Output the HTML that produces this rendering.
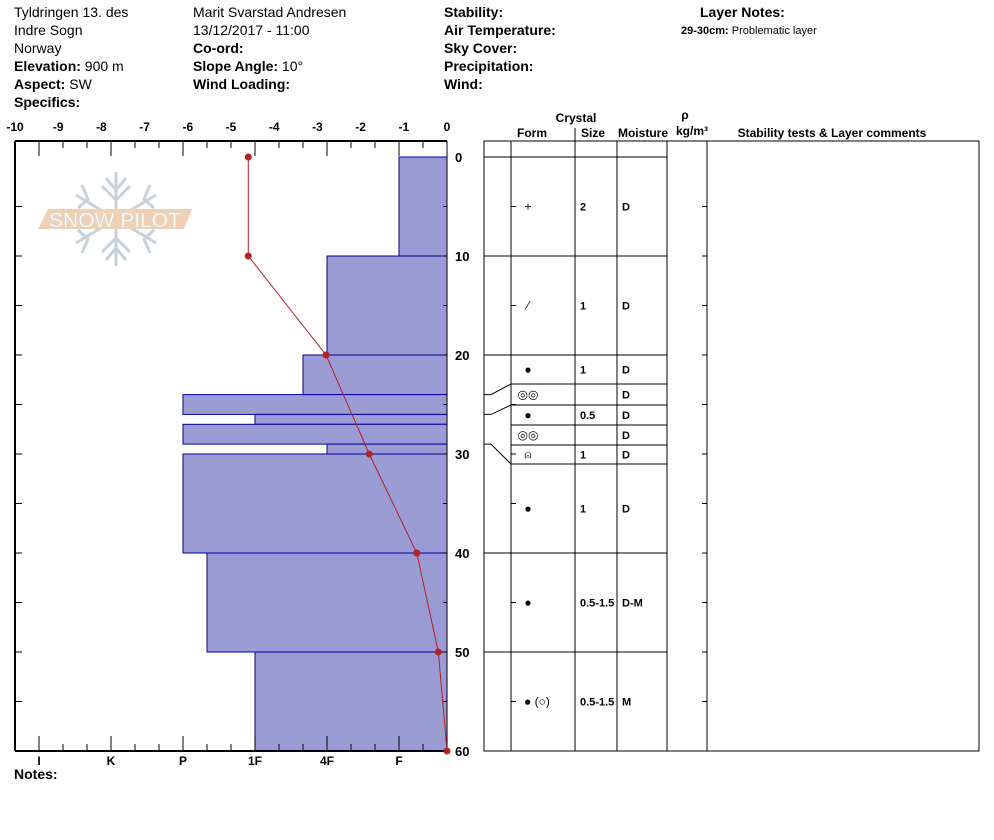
<!DOCTYPE html>
<html><head><meta charset="utf-8"><style>
body{margin:0;background:#fff;width:994px;height:840px;overflow:hidden;font-family:"Liberation Sans",sans-serif}
svg{position:absolute;left:0;top:0}
</style></head><body>
<svg id="s" width="994" height="840" xmlns="http://www.w3.org/2000/svg" font-family="Liberation Sans, sans-serif">
<g font-size="14" fill="#000">
<text x="14" y="17">Tyldringen 13. des</text>
<text x="14" y="35">Indre Sogn</text>
<text x="14" y="53">Norway</text>
<text x="14" y="71"><tspan font-weight="bold">Elevation:</tspan> 900 m</text>
<text x="14" y="89"><tspan font-weight="bold">Aspect:</tspan> SW</text>
<text x="14" y="107" font-weight="bold">Specifics:</text>
<text x="193" y="17">Marit Svarstad Andresen</text>
<text x="193" y="35">13/12/2017 - 11:00</text>
<text x="193" y="53" font-weight="bold">Co-ord:</text>
<text x="193" y="71"><tspan font-weight="bold">Slope Angle:</tspan> 10°</text>
<text x="193" y="89" font-weight="bold">Wind Loading:</text>
<text x="444" y="17" font-weight="bold">Stability:</text>
<text x="444" y="35" font-weight="bold">Air Temperature:</text>
<text x="444" y="53" font-weight="bold">Sky Cover:</text>
<text x="444" y="71" font-weight="bold">Precipitation:</text>
<text x="444" y="89" font-weight="bold">Wind:</text>
<text x="700" y="17" font-weight="bold">Layer Notes:</text>
<text x="681" y="34" font-size="11"><tspan font-weight="bold">29-30cm:</tspan> Problematic layer</text>
</g>
<g opacity="0.85">
<g stroke="#c0cad2" stroke-width="3" fill="none">
<line x1="116" y1="172" x2="116" y2="266"/><line x1="76" y1="195" x2="156" y2="243"/><line x1="156" y1="195" x2="76" y2="243"/>
<polyline points="106,178 116,190 126,178"/><polyline points="106,260 116,248 126,260"/>
<polyline points="102,186 116,200 130,186"/><polyline points="102,252 116,238 130,252"/>
<polyline points="82,185 88,199 78,208"/><polyline points="150,185 144,199 154,208"/>
<polyline points="82,253 88,239 78,230"/><polyline points="150,253 144,239 154,230"/>
</g>
<polygon points="48,209 192,209 184,229 38,229" fill="#ecc9a8"/>
<text x="115" y="227" font-size="20" fill="#fff" stroke="#d8d8d8" stroke-width="0.6" text-anchor="middle" textLength="132" lengthAdjust="spacingAndGlyphs">SNOW PILOT</text>
</g>
<g id="plot"></g>
<g id="table"></g>
<text x="14" y="779" font-size="14" font-weight="bold">Notes:</text>
</svg>
<script>
// Data
const layerTops = [0,10,20,24,26,27,29,30,40,50];
const layerBottoms = [10,20,24,26,27,29,30,40,50,60];
const hardness = [2,5,6,11,8,11,5,11,10,8]; // in thirds: F=2,4F=5,1F=8,P=11,K=14,I=17
const tempDepths = [0,10,20,30,40,50,60];
const tempValues = [-4.6,-4.6,-2.8,-1.8,-0.7,-0.2,0];
const tempTicks = [-10,-9,-8,-7,-6,-5,-4,-3,-2,-1,0];
const hardLabels = ['I','K','P','1F','4F','F'];
const hardLabelPos = [17,14,11,8,5,2];
const depthTicks = [0,10,20,30,40,50,60];
const rowTopsPx = [157,256,355,384,405,425,445,464,553,652];
const rowForm = ['+','⁄','●','◎◎','●','◎◎','⍝','●','●','● (○)'];
const rowSize = ['2','1','1','','0.5','','1','1','0.5-1.5','0.5-1.5'];
const rowMoist = ['D','D','D','D','D','D','D','D','D-M','M'];

const NS='http://www.w3.org/2000/svg';
const R=447,L=15,TOP=141,BOT=751,D0=157,DPX=9.9;
const xT=t=>R+t*43.2, xH=h=>R-h*24, yD=d=>D0+d*DPX;
function mk(p,tag,at){const e=document.createElementNS(NS,tag);for(const k in at)e.setAttribute(k,at[k]);p.appendChild(e);return e;}
const plot=document.getElementById('plot');
for(let i=0;i<hardness.length;i++){
 const r=mk(plot,'rect',{x:xH(hardness[i]),y:yD(layerTops[i]),width:R-xH(hardness[i]),height:yD(layerBottoms[i])-yD(layerTops[i]),fill:'#9b9bd5',stroke:'#0000a0','stroke-width':1});
 
 
}
mk(plot,'line',{x1:L,y1:TOP,x2:R,y2:TOP,stroke:'#000','stroke-width':2});
mk(plot,'line',{x1:L,y1:BOT,x2:R,y2:BOT,stroke:'#000','stroke-width':2});
mk(plot,'line',{x1:L,y1:TOP,x2:L,y2:BOT,stroke:'#000','stroke-width':2});
mk(plot,'line',{x1:R,y1:TOP,x2:R,y2:BOT,stroke:'#000','stroke-width':1});
for(const t of tempTicks){
 const tx=mk(plot,'text',{x:xT(t),y:131,'font-size':12,'font-weight':'bold','text-anchor':'middle'});tx.textContent=t;
 
 
}
for(let h=1;h<=17;h++){
 const major=(h+1)%3===0;
 const len=major?15:7;
 mk(plot,'line',{x1:xH(h),y1:TOP,x2:xH(h),y2:TOP+len,stroke:'#000'});
 mk(plot,'line',{x1:xH(h),y1:BOT,x2:xH(h),y2:BOT-len,stroke:'#000'});
}
for(let i=0;i<hardLabels.length;i++){
 const tx=mk(plot,'text',{x:xH(hardLabelPos[i]),y:765,'font-size':12,'font-weight':'bold','text-anchor':'middle'});tx.textContent=hardLabels[i];
 
 
}
for(let d=5;d<60;d+=5){mk(plot,'line',{x1:L,y1:yD(d),x2:L+7,y2:yD(d),stroke:'#000'});mk(plot,'line',{x1:R-4,y1:yD(d),x2:R,y2:yD(d),stroke:'#000'});}
for(const d of depthTicks){
 const tx=mk(plot,'text',{x:455,y:yD(d)+5,'font-size':13,'font-weight':'bold'});tx.textContent=d;
 
 
}
const pts=tempDepths.map((d,i)=>xT(tempValues[i])+','+yD(d)).join(' ');
const pl=mk(plot,'polyline',{points:pts,fill:'none',stroke:'#b22222','stroke-width':1});


tempDepths.forEach((d,i)=>{const c=mk(plot,'circle',{cx:xT(tempValues[i]),cy:yD(d),r:3.5,fill:'#b22222'});
 
 });

const tb=document.getElementById('table');
const TL=484,C1=511,C2=575,C3=617,C4=667,C5=707,TR=979;
const hdr=[['Crystal',576,122],['Form',532,137],['Size',593,137],['Moisture',643,137],['ρ',685,119],['kg/m³',692,135],['Stability tests & Layer comments',832,137]];
for(const h of hdr){const t=mk(tb,'text',{x:h[1],y:h[2],'font-size':12,'font-weight':'bold','text-anchor':'middle'});t.textContent=h[0];
 
 }
mk(tb,'rect',{x:TL,y:TOP,width:TR-TL,height:BOT-TOP,fill:'none',stroke:'#000'});
for(const x of [C1,C3,C4,C5])mk(tb,'line',{x1:x,y1:TOP,x2:x,y2:BOT,stroke:'#000'});
mk(tb,'line',{x1:C2,y1:128,x2:C2,y2:BOT,stroke:'#000'});
for(let d=5;d<60;d+=5){mk(tb,'line',{x1:C5-5,y1:yD(d),x2:C5,y2:yD(d),stroke:'#000'});mk(tb,'line',{x1:C1,y1:yD(d),x2:C1+5,y2:yD(d),stroke:'#000'});}
const depthRowPx=[yD(0),yD(10),yD(20),null,null,null,null,null,yD(40),yD(50)];
for(let i=0;i<rowTopsPx.length;i++){
 const y=rowTopsPx[i];
 mk(tb,'line',{x1:(depthRowPx[i]!==null?TL:C1),y1:y,x2:C4,y2:y,stroke:'#000'});
}
mk(tb,'polyline',{points:`${TL},${yD(24)} 491,${yD(24)} ${C1},384`,fill:'none',stroke:'#000'});
mk(tb,'polyline',{points:`${TL},${yD(26)} 491,${yD(26)} ${C1},405`,fill:'none',stroke:'#000'});
mk(tb,'polyline',{points:`${TL},${yD(29)} 491,${yD(29)} ${C1},464`,fill:'none',stroke:'#000'});
for(let i=0;i<rowTopsPx.length;i++){
 const y0=rowTopsPx[i],y1=i<rowTopsPx.length-1?rowTopsPx[i+1]:BOT,ym=(y0+y1)/2+4;
 const long=rowForm[i].length>2;
 const f=mk(tb,'text',{x:long?524:528,y:ym,'font-size':12,'text-anchor':long?'start':'middle'});f.textContent=rowForm[i];
 
 const s=mk(tb,'text',{x:580,y:ym,'font-size':11,'font-weight':'bold'});s.textContent=rowSize[i];
 
 const m=mk(tb,'text',{x:622,y:ym,'font-size':11,'font-weight':'bold'});m.textContent=rowMoist[i];
 
}
</script>
</body></html>
